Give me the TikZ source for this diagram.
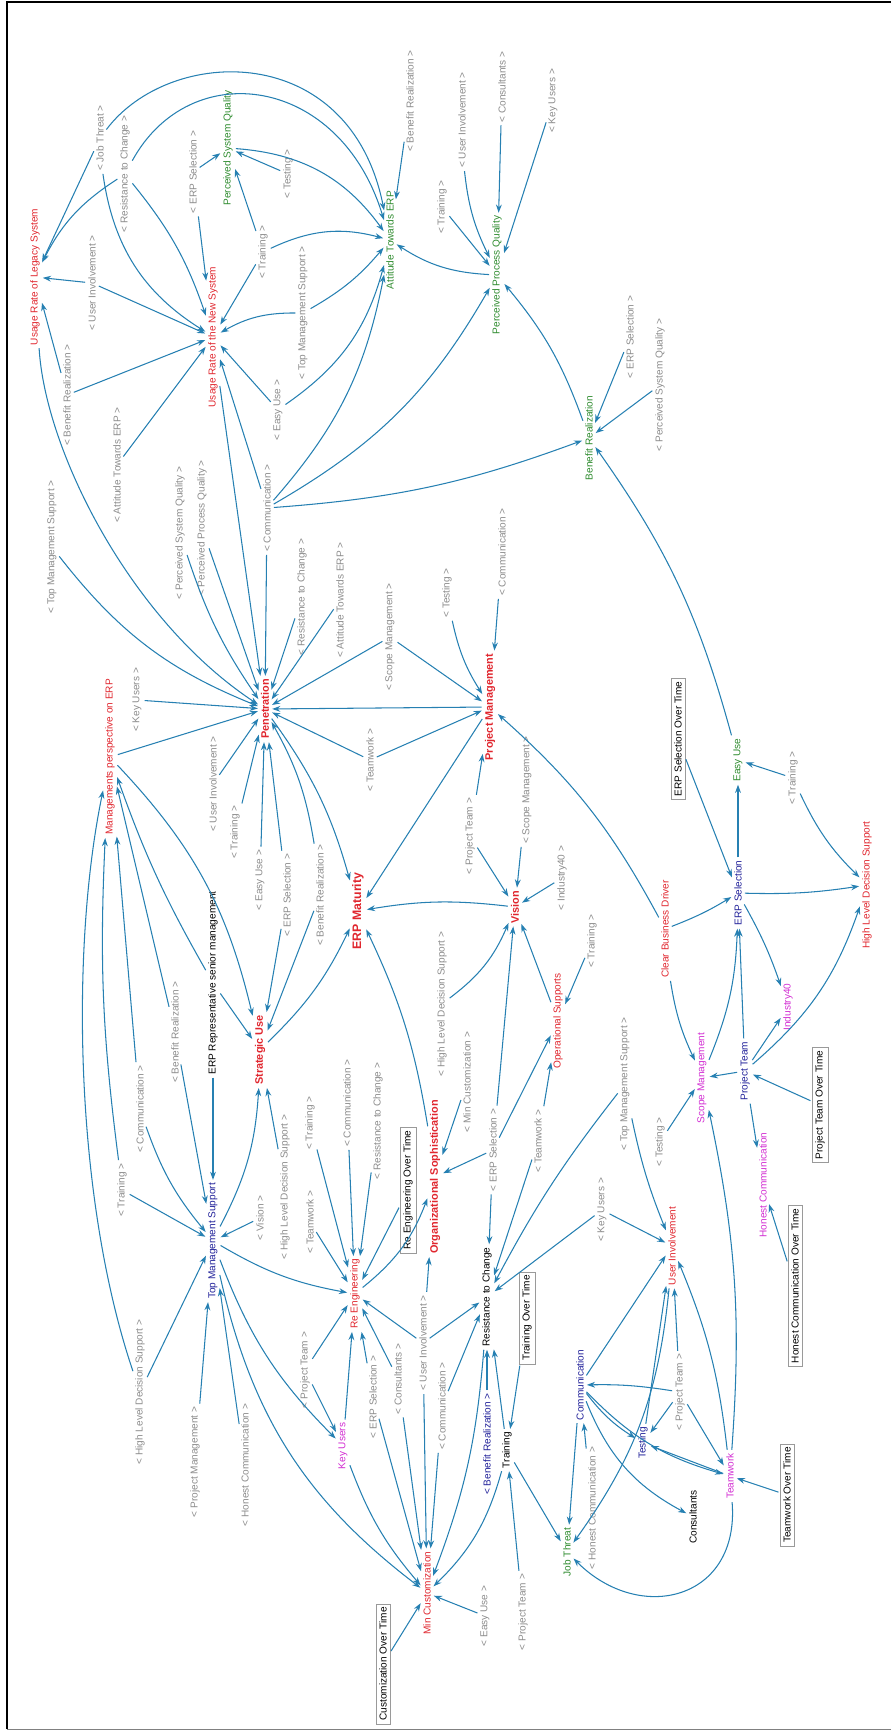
\documentclass[tikz,border=0pt]{standalone}
\usepackage{fontspec}
\setmainfont{Liberation Sans}
\usepackage{tikz}
\usetikzlibrary{arrows.meta}
\definecolor{vred}{HTML}{E0262E}
\definecolor{vgreen}{HTML}{2E8B2E}
\definecolor{vnavy}{HTML}{22229A}
\definecolor{vmagenta}{HTML}{D22ED2}
\definecolor{shadowgray}{HTML}{8C8C8C}
\definecolor{boxgray}{HTML}{9A9A9A}
\definecolor{linkblue}{HTML}{2680B2}
\tikzset{
  var/.style={rotate=90, inner sep=1.5pt, font=\fontsize{8.6}{10}\selectfont},
  keyvar/.style={var, text=vred, font=\fontsize{9.3}{11}\selectfont\bfseries},
  shadow/.style={var, text=shadowgray},
  timebox/.style={var, draw=boxgray, inner sep=3pt},
  arrow/.style={-{Stealth[length=7pt, width=5pt]}, line width=0.9pt, color=linkblue, shorten >=1pt, shorten <=1pt},
}
\begin{document}
\begin{tikzpicture}[x=0.3mm, y=-0.3mm]
  \useasboundingbox (0,0) rectangle (891,1731);
  \draw[line width=1.5pt] (7,1729) -- (7,2) -- (891,2);
  \draw[gray, line width=0.8pt] (7,1729) -- (891,1729);

  % variables
  \node[var, text=vred] (urls) at (35,277) {Usage Rate of Legacy System};
  \node[var, text=vred] (urns) at (213,337) {Usage Rate of the New System};
  \node[var, text=vgreen] (psq) at (228,148) {Perceived System Quality};
  \node[var, text=vgreen] (ate) at (390,240) {Attitude Towards ERP};
  \node[var, text=vgreen] (ppq) at (497,275) {Perceived Process Quality};
  \node[var, text=vgreen] (br) at (589,438) {Benefit Realization};
  \node[keyvar] (pen) at (265,709) {Penetration};
  \node[var, text=vred] (mp) at (110,757) {Managements perspective on ERP};
  \node[keyvar] (pm) at (490,707) {Project Management};
  \node[keyvar, font=\fontsize{10.5}{12}\selectfont\bfseries] (erpm) at (358,911) {ERP Maturity};
  \node[keyvar] (vis) at (515,907) {Vision};
  \node[var] (ers) at (213,983) {ERP Representative senior management};
  \node[keyvar] (su) at (260,1050) {Strategic Use};
  \node[var, text=vnavy] (tms) at (213,1241) {Top Management Support};
  \node[var, text=vred] (os) at (558,1021) {Operational Supports};
  \node[keyvar] (orgs) at (435,1177) {Organizational Sophistication};
  \node[var, text=vred] (reng) at (355,1294) {Re Engineering};
  \node[var] (rtc) at (487,1297) {Resistance to Change};
  \node[var] (trn) at (507,1450) {Training};
  \node[var, text=vmagenta] (ku) at (343,1446) {Key Users};
  \node[var, text=vred] (mc) at (427,1593) {Min Customization};
  \node[var, text=vgreen] (jt) at (567,1552) {Job Threat};
  \node[var, text=vnavy] (comm) at (580,1385) {Communication};
  \node[var, text=vnavy] (tst) at (643,1443) {Testing};
  \node[var, text=vmagenta] (tw) at (730,1476) {Teamwork};
  \node[var] (cons) at (693,1517) {Consultants};
  \node[var, text=vred] (ui) at (672,1246) {User Involvement};
  \node[var, text=vmagenta] (sm) at (702,1078) {Scope Management};
  \node[var, text=vnavy] (pt) at (745,1071) {Project Team};
  \node[var, text=vmagenta] (hc) at (763,1185) {Honest Communication};
  \node[var, text=vred] (cbd) at (665,929) {Clear Business Driver};
  \node[var, text=vnavy] (es) at (738,893) {ERP Selection};
  \node[var, text=vgreen] (eu) at (738,760) {Easy Use};
  \node[var, text=vmagenta] (ind) at (788,1007) {Industry40};
  \node[var, text=vred] (hlds) at (867,885) {High Level Decision Support};

  % over time inputs
  \node[timebox] (esot) at (678,739) {ERP Selection Over Time};
  \node[timebox] (ptot) at (820,1105) {Project Team Over Time};
  \node[timebox] (hcot) at (795,1286) {Honest Communication Over Time};
  \node[timebox] (reot) at (408,1190) {Re Engineering Over Time};
  \node[timebox] (trot) at (527,1318) {Training Over Time};
  \node[timebox] (twot) at (787,1495) {Teamwork Over Time};
  \node[timebox] (cuot) at (383,1664) {Customization Over Time};

  % shadow variables
  \node[shadow] (sjt1) at (100,138) {< Job Threat >};
  \node[shadow] (srtc1) at (125,174) {< Resistance to Change >};
  \node[shadow] (ses1) at (193,172) {< ERP Selection >};
  \node[shadow] (stst1) at (288,174) {< Testing >};
  \node[shadow] (strn1) at (263,252) {< Training >};
  \node[shadow] (sui1) at (92,283) {< User Involvement >};
  \node[shadow] (stms1) at (303,313) {< Top Management Support >};
  \node[shadow] (sbr1) at (67,395) {< Benefit Realization >};
  \node[shadow] (seu1) at (278,410) {< Easy Use >};
  \node[shadow] (sate1) at (117,465) {< Attitude Towards ERP >};
  \node[shadow] (sbr2) at (410,101) {< Benefit Realization >};
  \node[shadow] (sui2) at (462,120) {< User Involvement >};
  \node[shadow] (scons1) at (502,87) {< Consultants >};
  \node[shadow] (sku1) at (553,101) {< Key Users >};
  \node[shadow] (strn2) at (442,207) {< Training >};
  \node[shadow] (ses2) at (630,337) {< ERP Selection >};
  \node[shadow] (spsq2) at (660,385) {< Perceived System Quality >};
  \node[shadow] (stms2) at (52,547) {< Top Management Support >};
  \node[shadow] (spsq1) at (180,533) {< Perceived System Quality >};
  \node[shadow] (sppq1) at (202,528) {< Perceived Process Quality >};
  \node[shadow] (scomm1) at (267,508) {< Communication >};
  \node[shadow] (srtc2) at (302,597) {< Resistance to Change >};
  \node[shadow] (sate2) at (340,600) {< Attitude Towards ERP >};
  \node[shadow] (ssm1) at (390,637) {< Scope Management >};
  \node[shadow] (stst2) at (447,593) {< Testing >};
  \node[shadow] (scomm2) at (502,552) {< Communication >};
  \node[shadow] (sku2) at (137,700) {< Key Users >};
  \node[shadow] (stw1) at (370,760) {< Teamwork >};
  \node[shadow] (sui3) at (213,784) {< User Involvement >};
  \node[shadow] (strn3) at (235,832) {< Training >};
  \node[shadow] (seu2) at (260,880) {< Easy Use >};
  \node[shadow] (ses3) at (287,895) {< ERP Selection >};
  \node[shadow] (sbr3) at (320,895) {< Benefit Realization >};
  \node[shadow] (spt1) at (470,836) {< Project Team >};
  \node[shadow] (ssm2) at (527,790) {< Scope Management >};
  \node[shadow] (sind1) at (562,878) {< Industry40 >};
  \node[shadow] (strn7) at (793,778) {< Training >};
  \node[shadow] (strn4) at (592,941) {< Training >};
  \node[shadow] (shlds1) at (442,1004) {< High Level Decision Support >};
  \node[shadow] (smc1) at (467,1082) {< Min Customization >};
  \node[shadow] (ses4) at (493,1150) {< ERP Selection >};
  \node[shadow] (stw2) at (538,1141) {< Teamwork >};
  \node[shadow] (scomm3) at (347,1103) {< Communication >};
  \node[shadow] (strn5) at (310,1123) {< Training >};
  \node[shadow] (srtc3) at (378,1121) {< Resistance to Change >};
  \node[shadow] (stw3) at (310,1222) {< Teamwork >};
  \node[shadow] (sbr5) at (175,1032) {< Benefit Realization >};
  \node[shadow] (scomm5) at (140,1109) {< Communication >};
  \node[shadow] (strn6) at (122,1190) {< Training >};
  \node[shadow] (svis1) at (260,1218) {< Vision >};
  \node[shadow] (shlds2) at (285,1187) {< High Level Decision Support >};
  \node[shadow] (shlds3) at (140,1392) {< High Level Decision Support >};
  \node[shadow] (spm1) at (195,1462) {< Project Management >};
  \node[shadow] (shc1) at (245,1465) {< Honest Communication >};
  \node[shadow] (spt2) at (305,1370) {< Project Team >};
  \node[shadow] (ses5) at (373,1397) {< ERP Selection >};
  \node[shadow] (scons2) at (398,1379) {< Consultants >};
  \node[shadow] (sui4) at (423,1343) {< User Involvement >};
  \node[shadow] (scomm4) at (442,1406) {< Communication >};
  \node[var, text=vnavy] (sbr4) at (487,1444) {< Benefit Realization >};
  \node[shadow] (seu3) at (485,1616) {< Easy Use >};
  \node[shadow] (spt3) at (523,1612) {< Project Team >};
  \node[shadow] (shc2) at (592,1508) {< Honest Communication >};
  \node[shadow] (spt4) at (680,1392) {< Project Team >};
  \node[shadow] (stms3) at (625,1084) {< Top Management Support >};
  \node[shadow] (stst3) at (660,1142) {< Testing >};
  \node[shadow] (sku3) at (602,1210) {< Key Users >};

  % links: usage and attitude
  \draw[arrow] (sjt1) -- (urls);
  \draw[arrow] (sjt1) to[bend right=25] (urns);
  \draw[arrow] (sjt1) .. controls (170,45) and (350,40) .. (ate);
  \draw[arrow] (srtc1) to[bend right=15] (urls);
  \draw[arrow] (srtc1) to[bend left=10] (urns);
  \draw[arrow] (srtc1) .. controls (190,55) and (340,75) .. (ate);
  \draw[arrow] (ses1) -- (urns);
  \draw[arrow] (ses1) -- (psq);
  \draw[arrow] (stst1) -- (psq);
  \draw[arrow] (strn1) -- (psq);
  \draw[arrow] (strn1) -- (urns);
  \draw[arrow] (strn1) to[bend left=20] (ate);
  \draw[arrow] (sui1) -- (urls);
  \draw[arrow] (sui1) -- (urns);
  \draw[arrow] (stms1) to[bend right=15] (urns);
  \draw[arrow] (stms1) to[bend right=10] (ate);
  \draw[arrow] (sbr1) -- (urls);
  \draw[arrow] (sbr1) -- (urns);
  \draw[arrow] (seu1) -- (urns);
  \draw[arrow] (seu1) to[bend right=20] (ate);
  \draw[arrow] (sate1) -- (urns);
  \draw[arrow] (psq) to[bend left=25] (ate);
  \draw[arrow] (sbr2) -- (ate);
  \draw[arrow] (ppq) to[bend left=15] (ate);
  \draw[arrow] (sui2) to[bend right=10] (ppq);
  \draw[arrow] (scons1) -- (ppq);
  \draw[arrow] (sku1) -- (ppq);
  \draw[arrow] (strn2) -- (ppq);
  \draw[arrow] (br) to[bend right=10] (ppq);
  \draw[arrow] (ses2) -- (br);
  \draw[arrow] (spsq2) -- (br);
  \draw[arrow] (scomm1) -- (urns);
  \draw[arrow] (scomm1) to[bend right=15] (ate);
  \draw[arrow] (scomm1) to[bend right=15] (ppq);
  \draw[arrow] (scomm1) to[bend right=8] (br);
  \draw[arrow] (eu) to[bend right=10] (br);

  % links: penetration
  \draw[arrow] (urls) .. controls (45,450) and (130,620) .. (pen);
  \draw[arrow] (urns) -- (pen);
  \draw[arrow] (scomm1) -- (pen);
  \draw[arrow] (stms2) to[bend right=15] (pen);
  \draw[arrow] (spsq1) to[bend right=8] (pen);
  \draw[arrow] (sppq1) -- (pen);
  \draw[arrow] (srtc2) -- (pen);
  \draw[arrow] (sate2) -- (pen);
  \draw[arrow] (ssm1) -- (pen);
  \draw[arrow] (pm) -- (pen);
  \draw[arrow] (stw1) -- (pen);
  \draw[arrow] (sku2) -- (pen);
  \draw[arrow] (mp) -- (pen);
  \draw[arrow] (sui3) -- (pen);
  \draw[arrow] (strn3) -- (pen);
  \draw[arrow] (seu2) -- (pen);
  \draw[arrow] (ses3) -- (pen);
  \draw[arrow] (sbr3) to[bend right=10] (pen);
  \draw[arrow] (pen) to[bend left=10] (erpm);

  % links: project management and vision
  \draw[arrow] (ssm1) -- (pm);
  \draw[arrow] (stst2) to[bend right=10] (pm);
  \draw[arrow] (scomm2) -- (pm);
  \draw[arrow] (stw1) -- (pm);
  \draw[arrow] (spt1) -- (pm);
  \draw[arrow] (cbd) to[bend right=10] (pm);
  \draw[arrow] (pm) -- (erpm);
  \draw[arrow] (spt1) -- (vis);
  \draw[arrow] (ssm2) -- (vis);
  \draw[arrow] (sind1) -- (vis);
  \draw[arrow] (shlds1) to[bend right=15] (vis);
  \draw[arrow] (ses4) -- (vis);
  \draw[arrow] (os) -- (vis);
  \draw[arrow] (vis) to[bend right=8] (erpm);
  \draw[arrow] (strn4) -- (os);
  \draw[arrow] (ses4) -- (os);
  \draw[arrow] (stw2) -- (os);

  % links: strategic use and management
  \draw[arrow] (ses3) -- (su);
  \draw[arrow] (sbr3) -- (su);
  \draw[arrow] (mp) to[bend left=15] (su);
  \draw[arrow] (ers) -- (su);
  \draw[arrow] (tms) to[bend right=12] (su);
  \draw[arrow] (shlds2) -- (su);
  \draw[arrow] (su) to[bend right=10] (erpm);
  \draw[arrow] (shlds3) .. controls (75,1200) and (70,950) .. (mp);
  \draw[arrow] (strn6) to[bend left=5] (mp);
  \draw[arrow] (scomm5) -- (mp);
  \draw[arrow] (sbr5) -- (mp);
  \draw[arrow] (ers) to[bend left=5] (mp);
  \draw[arrow] (ers) -- (tms);
  \draw[arrow] (sbr5) -- (tms);
  \draw[arrow] (scomm5) to[bend right=10] (tms);
  \draw[arrow] (strn6) -- (tms);
  \draw[arrow] (svis1) -- (tms);
  \draw[arrow] (shlds3) -- (tms);
  \draw[arrow] (spm1) -- (tms);
  \draw[arrow] (shc1) -- (tms);

  % links: re engineering and sophistication
  \draw[arrow] (orgs) to[bend right=8] (erpm);
  \draw[arrow] (smc1) -- (orgs);
  \draw[arrow] (ses4) -- (orgs);
  \draw[arrow] (reng) to[bend right=15] (orgs);
  \draw[arrow] (sui4) -- (orgs);
  \draw[arrow] (reot) -- (reng);
  \draw[arrow] (scomm3) -- (reng);
  \draw[arrow] (strn5) -- (reng);
  \draw[arrow] (srtc3) -- (reng);
  \draw[arrow] (stw3) -- (reng);
  \draw[arrow] (tms) to[bend right=10] (reng);
  \draw[arrow] (spt2) -- (reng);
  \draw[arrow] (ku) -- (reng);
  \draw[arrow] (ses5) -- (reng);
  \draw[arrow] (scons2) -- (reng);
  \draw[arrow] (sui4) -- (reng);

  % links: customization and resistance
  \draw[arrow] (tms) to[bend right=12] (ku);
  \draw[arrow] (tms) to[bend right=20] (mc);
  \draw[arrow] (spt2) -- (ku);
  \draw[arrow] (ku) to[bend right=10] (mc);
  \draw[arrow] (ses5) -- (mc);
  \draw[arrow] (scons2) -- (mc);
  \draw[arrow] (sui4) -- (mc);
  \draw[arrow] (scomm4) -- (mc);
  \draw[arrow] (rtc) to[bend left=8] (mc);
  \draw[arrow] (trn) to[bend left=15] (mc);
  \draw[arrow] (seu3) -- (mc);
  \draw[arrow] (cuot) -- (mc);
  \draw[arrow] (sui4) -- (rtc);
  \draw[arrow] (scomm4) -- (rtc);
  \draw[arrow] (sbr4) -- (rtc);
  \draw[arrow] (trn) -- (rtc);
  \draw[arrow] (ses4) -- (rtc);
  \draw[arrow] (stw2) -- (rtc);
  \draw[arrow] (sku3) -- (rtc);
  \draw[arrow] (stms3) to[bend right=5] (rtc);
  \draw[arrow] (trot) -- (trn);
  \draw[arrow] (spt3) -- (trn);
  \draw[arrow] (trn) -- (jt);

  % links: team side
  \draw[arrow] (sku3) -- (ui);
  \draw[arrow] (stms3) to[bend right=5] (ui);
  \draw[arrow] (comm) -- (jt);
  \draw[arrow] (ui) to[bend left=15] (jt);
  \draw[arrow] (tw) .. controls (740,1600) and (640,1625) .. (jt);
  \draw[arrow] (shc2) -- (comm);
  \draw[arrow] (spt4) to[bend right=5] (comm);
  \draw[arrow] (spt4) -- (tst);
  \draw[arrow] (spt4) -- (tw);
  \draw[arrow] (spt4) -- (ui);
  \draw[arrow] (comm) to[bend right=10] (tst);
  \draw[arrow] (comm) to[bend right=15] (tw);
  \draw[arrow] (comm) to[bend right=20] (cons);
  \draw[arrow] (comm) -- (ui);
  \draw[arrow] (tst) -- (ui);
  \draw[arrow] (tw) -- (tst);
  \draw[arrow] (tw) to[bend right=8] (ui);
  \draw[arrow] (tw) to[bend right=8] (sm);
  \draw[arrow] (twot) -- (tw);

  % links: selection side
  \draw[arrow] (stst3) -- (sm);
  \draw[arrow] (cbd) to[bend right=8] (sm);
  \draw[arrow] (cbd) to[bend right=5] (es);
  \draw[arrow] (pt) -- (sm);
  \draw[arrow] (pt) -- (es);
  \draw[arrow] (pt) to[bend right=15] (hlds);
  \draw[arrow] (pt) -- (ind);
  \draw[arrow] (pt) -- (hc);
  \draw[arrow] (ptot) -- (pt);
  \draw[arrow] (hcot) -- (hc);
  \draw[arrow] (sm) to[bend right=10] (es);
  \draw[arrow] (esot) -- (es);
  \draw[arrow] (es) -- (eu);
  \draw[arrow] (es) to[bend right=5] (hlds);
  \draw[arrow] (es) to[bend left=5] (ind);
  \draw[arrow] (strn7) -- (eu);
  \draw[arrow] (strn7) to[bend right=10] (hlds);

\end{tikzpicture}
\end{document}
